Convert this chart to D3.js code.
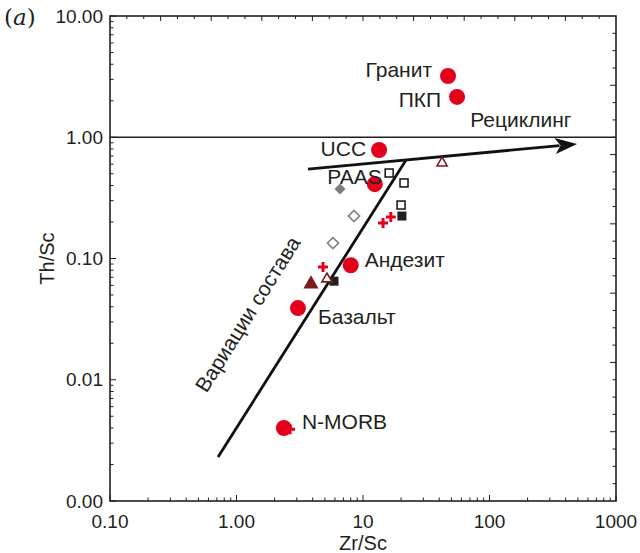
<!DOCTYPE html>
<meta charset="utf-8">
<style>
body { margin: 0; background: #fff; }
text { font-family: "Liberation Sans", Arial, sans-serif; fill: #231f20; }
.frame { fill: none; stroke: #231f20; stroke-width: 1.6; }
.tick-line { stroke: #231f20; stroke-width: 1; }
.guide { stroke: #111; stroke-width: 2.8; fill: none; }
</style>
<body>
<div id="chart"></div>
<script src="https://d3js.org/d3.v7.min.js"></script>
<script>

// tick labels
var xTickVals = [0.1, 1, 10, 100, 1000];
var xTickLabels = ["0.10", "1.00", "10", "100", "1000"];
var yTickVals = [0.001, 0.01, 0.1, 1, 10];
var yTickLabels = ["0.00", "0.01", "0.10", "1.00", "10.00"];

// reference rocks (red circles): [Zr/Sc, Th/Sc, label]
var refRocks = [
  [47, 3.2, "Гранит"],
  [55.4, 2.15, "ПКП"],
  [13.4, 0.785, "UCC"],
  [12.4, 0.41, "PAAS"],
  [8.0, 0.088, "Андезит"],
  [3.06, 0.039, "Базальт"],
  [2.37, 0.004, "N-MORB"]
];

// samples
var redPlus = [[14.4, 0.196], [16.6, 0.22], [4.83, 0.085], [2.65, 0.0039]];
var blackSquares = [[20.3, 0.224], [5.9, 0.065]];
var openSquares = [[16.1, 0.507], [21.1, 0.42], [20.0, 0.276]];
var grayDiamonds = [[6.58, 0.374]];
var openDiamonds = [[8.49, 0.224], [5.79, 0.134]];
var darkTriangles = [[3.88, 0.0616]];
var openTriangles = [[5.19, 0.0678], [42.2, 0.613]];

// trend lines
var variationLine = [[0.715, 0.00231], [21.9, 0.649]];
var recyclingLine = [[3.67, 0.547], [492, 0.879]];

var W = 640, H = 553;
var margin = {top: 16, right: 24, bottom: 52, left: 110};
var width = W - margin.left - margin.right,
    height = H - margin.top - margin.bottom;

var red = "#e3001b", darkRed = "#7b1c1c", gray = "#7f7f7f";

var x = d3.scaleLog().domain([0.1, 1000]).range([0, width]);
var y = d3.scaleLog().domain([0.001, 10]).range([height, 0]);

var svg = d3.select("#chart").append("svg")
    .attr("width", W).attr("height", H)
  .append("g")
    .attr("transform", "translate(" + margin.left + "," + margin.top + ")");

// frame
svg.append("rect").attr("class", "frame")
    .attr("width", width).attr("height", height);

// inward ticks on the log axes
x.ticks().forEach(function(v) {
  var major = xTickVals.indexOf(v) >= 0;
  svg.append("line").attr("class", "tick-line")
      .attr("x1", x(v)).attr("x2", x(v))
      .attr("y1", height).attr("y2", height - (major ? 6 : 3.5));
});
y.ticks().forEach(function(v) {
  var major = yTickVals.some(function(t) { return Math.abs(t - v) < v * 1e-6; });
  svg.append("line").attr("class", "tick-line")
      .attr("x1", 0).attr("x2", major ? 6 : 3.5)
      .attr("y1", y(v)).attr("y2", y(v));
});

// unlabeled linear ticks on top and right
var xTop = d3.scaleLinear().domain([0, 30]).range([0, width]);
d3.range(1, 30).forEach(function(i) {
  svg.append("line").attr("class", "tick-line")
      .attr("x1", xTop(i)).attr("x2", xTop(i))
      .attr("y1", 0).attr("y2", i % 3 === 0 ? 5 : 3);
});
var yRight = d3.scaleLinear().domain([0, 28]).range([height, 0]);
d3.range(1, 28).forEach(function(i) {
  svg.append("line").attr("class", "tick-line")
      .attr("x1", width).attr("x2", width - (i % 4 === 0 ? 6 : 3.5))
      .attr("y1", yRight(i)).attr("y2", yRight(i));
});

// tick labels
svg.selectAll(".xlab").data(xTickVals).enter().append("text")
    .attr("x", function(d) { return x(d); })
    .attr("y", height + 27)
    .attr("text-anchor", "middle")
    .style("font-size", "19px")
    .text(function(d, i) { return xTickLabels[i]; });
svg.selectAll(".ylab").data(yTickVals).enter().append("text")
    .attr("x", -7)
    .attr("y", function(d) { return y(d); })
    .attr("dy", "0.35em")
    .attr("text-anchor", "end")
    .style("font-size", "19px")
    .text(function(d, i) { return yTickLabels[i]; });

// axis titles
svg.append("text")
    .attr("x", x(10)).attr("y", height + 49)
    .attr("text-anchor", "middle").style("font-size", "20px")
    .text("Zr/Sc");
svg.append("text")
    .attr("transform", "translate(-56," + y(0.1) + ") rotate(-90)")
    .attr("text-anchor", "middle").style("font-size", "20px")
    .text("Th/Sc");

// panel tag
var tag = d3.select("svg").append("text")
    .attr("x", 4).attr("y", 25)
    .style("font-family", "'DejaVu Serif', serif").style("font-size", "23px");
tag.append("tspan").text("(");
tag.append("tspan").style("font-style", "italic").text("a");
tag.append("tspan").text(")");

// y = 1 reference line
svg.append("line").attr("class", "tick-line").style("stroke-width", 1.6)
    .attr("x1", 0).attr("x2", width)
    .attr("y1", y(1)).attr("y2", y(1));

// trend lines
var line = d3.line().x(function(d) { return x(d[0]); }).y(function(d) { return y(d[1]); });
svg.append("path").attr("class", "guide").attr("d", line(variationLine));

var r0 = recyclingLine[0], r1 = recyclingLine[1];
var ax0 = x(r0[0]), ay0 = y(r0[1]), ax1 = x(r1[0]), ay1 = y(r1[1]);
var ang = Math.atan2(ay1 - ay0, ax1 - ax0);
var headLen = 22, headW = 8;
svg.append("line").attr("class", "guide")
    .attr("x1", ax0).attr("y1", ay0)
    .attr("x2", ax1 - headLen * 0.8 * Math.cos(ang)).attr("y2", ay1 - headLen * 0.8 * Math.sin(ang));
var bx = ax1 - headLen * Math.cos(ang), by = ay1 - headLen * Math.sin(ang);
svg.append("path")
    .attr("d", "M" + ax1 + "," + ay1 +
      "L" + (bx + headW * Math.sin(ang)) + "," + (by - headW * Math.cos(ang)) +
      "L" + (ax1 - headLen * 0.75 * Math.cos(ang)) + "," + (ay1 - headLen * 0.75 * Math.sin(ang)) +
      "L" + (bx - headW * Math.sin(ang)) + "," + (by + headW * Math.cos(ang)) + "Z")
    .style("fill", "#111");

// markers
function px(d) { return x(d[0]); }
function py(d) { return y(d[1]); }

svg.selectAll(".osq").data(openSquares).enter().append("rect")
    .attr("x", function(d) { return px(d) - 4; }).attr("y", function(d) { return py(d) - 4; })
    .attr("width", 8).attr("height", 8)
    .style("fill", "#fff").style("stroke", "#111").style("stroke-width", 1.5);

svg.selectAll(".bsq").data(blackSquares).enter().append("rect")
    .attr("x", function(d) { return px(d) - 4.5; }).attr("y", function(d) { return py(d) - 4.5; })
    .attr("width", 9).attr("height", 9)
    .style("fill", "#231f20");

svg.selectAll(".gd").data(grayDiamonds).enter().append("path")
    .attr("d", d3.symbol().type(d3.symbolSquare).size(62))
    .attr("transform", function(d) { return "translate(" + px(d) + "," + py(d) + ") rotate(45)"; })
    .style("fill", gray);
svg.selectAll(".od").data(openDiamonds).enter().append("path")
    .attr("d", d3.symbol().type(d3.symbolSquare).size(62))
    .attr("transform", function(d) { return "translate(" + px(d) + "," + py(d) + ") rotate(45)"; })
    .style("fill", "#fff").style("stroke", gray).style("stroke-width", 1.6);

svg.selectAll(".dt").data(darkTriangles).enter().append("path")
    .attr("d", d3.symbol().type(d3.symbolTriangle).size(100))
    .attr("transform", function(d) { return "translate(" + px(d) + "," + py(d) + ")"; })
    .style("fill", darkRed);
svg.selectAll(".ot").data(openTriangles).enter().append("path")
    .attr("d", d3.symbol().type(d3.symbolTriangle).size(45))
    .attr("transform", function(d) { return "translate(" + px(d) + "," + py(d) + ")"; })
    .style("fill", "#fff").style("stroke", darkRed).style("stroke-width", 1.6);

svg.selectAll(".ref").data(refRocks).enter().append("circle")
    .attr("cx", px).attr("cy", py).attr("r", 8)
    .style("fill", red);

svg.selectAll(".plus").data(redPlus).enter().append("path")
    .attr("d", "M-5,0H5M0,-5V5")
    .attr("transform", function(d) { return "translate(" + px(d) + "," + py(d) + ")"; })
    .style("stroke", red).style("stroke-width", 3).style("fill", "none");

// labels
var labelPos = {
  "Гранит": {dx: -16, dy: -6, anchor: "end"},
  "ПКП": {dx: -16, dy: 3, anchor: "end"},
  "UCC": {dx: -13, dy: -1, anchor: "end"},
  "PAAS": {dx: 7, dy: -8, anchor: "end"},
  "Андезит": {dx: 14, dy: -6, anchor: "start"},
  "Базальт": {dx: 20, dy: 9, anchor: "start"},
  "N-MORB": {dx: 18, dy: -6, anchor: "start"}
};
svg.selectAll(".rlab").data(refRocks).enter().append("text")
    .attr("x", function(d) { return px(d) + labelPos[d[2]].dx; })
    .attr("y", function(d) { return py(d) + labelPos[d[2]].dy; })
    .attr("dy", "0.35em")
    .attr("text-anchor", function(d) { return labelPos[d[2]].anchor; })
    .style("font-size", "21px")
    .text(function(d) { return d[2]; });

svg.append("text")
    .attr("x", x(177)).attr("y", y(1) - 10)
    .attr("text-anchor", "middle").style("font-size", "21px")
    .text("Рециклинг");

svg.append("text")
    .attr("transform", "translate(" + (x(1.23) + 6) + "," + (y(0.0348) + 4) + ") rotate(-58)")
    .attr("text-anchor", "middle").style("font-size", "21px")
    .text("Вариации состава");

</script>
</body>
